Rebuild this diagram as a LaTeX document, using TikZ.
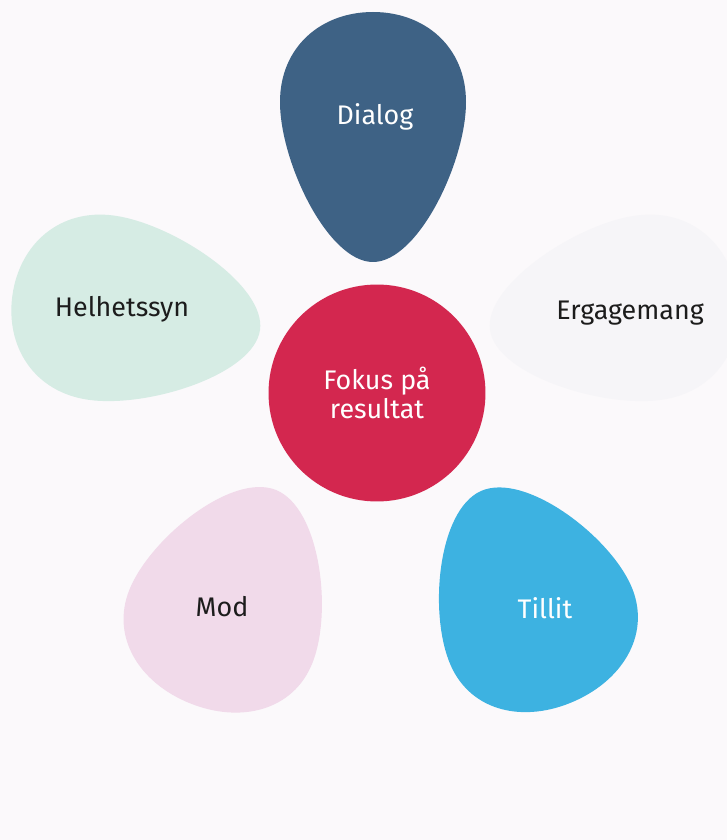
\documentclass[tikz,border=0pt]{standalone}
\usepackage{fontspec}
\setmainfont{Fira Sans}
\definecolor{bakgrund}{HTML}{FBF9FB}
\definecolor{dialogbla}{HTML}{3E6285}
\definecolor{mint}{HTML}{D6ECE4}
\definecolor{nastanvit}{HTML}{F6F5F8}
\definecolor{rod}{HTML}{D3274F}
\definecolor{rosa}{HTML}{F1DAEA}
\definecolor{himmel}{HTML}{3DB2E1}
\definecolor{morkgra}{HTML}{1C1C1C}
\begin{document}
\begin{tikzpicture}[x=0.02cm, y=0.02cm, font=\fontsize{15.3}{16.5}\selectfont, line join=round]
	\tikzset{
		blad/.pic={\path[pic actions] (0,0) .. controls (0,45) and (100,93) .. (160,93)
			.. controls (215,93) and (250,52) .. (250,0)
			.. controls (250,-52) and (215,-93) .. (160,-93)
			.. controls (100,-93) and (0,-45) .. (0,0) -- cycle;},
		etikett/.style={text=morkgra, align=center},
		ljus/.style={text=white, align=center}
	}
	\useasboundingbox (0,0) rectangle (727,840);
	\clip (0,0) rectangle (727,840);
	\fill[bakgrund] (0,0) rectangle (727,840);
	%\draw[gray!40] (0,0) grid[step=50] (727,840);
	% blad runt mitten
	\pic[fill=dialogbla, rotate=90] at (373,578) {blad};
	\pic[fill=mint, rotate=172] at (260,510) {blad};
	\pic[fill=nastanvit, rotate=8] at (490,510) {blad};
	\pic[fill=rosa, rotate=248, xscale=0.92, yscale=1.06] at (276,350) {blad};
	\pic[fill=himmel, rotate=294, xscale=0.92, yscale=1.06] at (481,349) {blad};
	\node[circle, fill=rod, minimum size=4.34cm, inner sep=0pt] (fokus) at (377,447) {};
	\node[ljus] (fokustext) at (fokus) {Fokus på\\resultat};
	\node[ljus] (dialog) at (375,723) {Dialog};
	\node[etikett] (helhet) at (122,531) {Helhetssyn};
	\node[etikett] (engagemang) at (630,527) {Ergagemang};
	\node[etikett] (mod) at (222,233) {Mod};
	\node[ljus] (tillit) at (545,232) {Tillit};
\end{tikzpicture}
\end{document}
